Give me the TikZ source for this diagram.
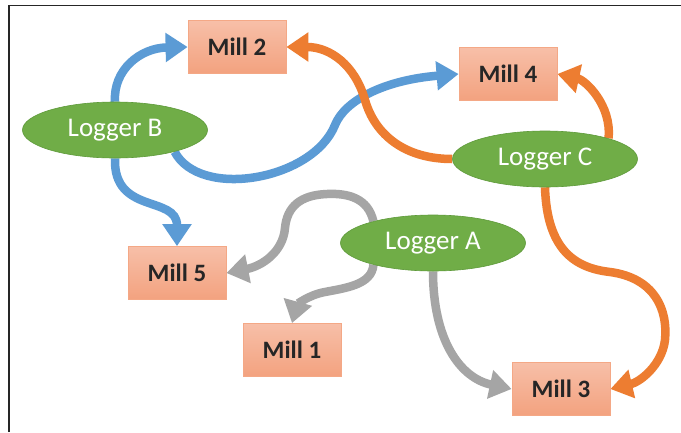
\documentclass[tikz,border=0pt]{standalone}
\usepackage{fontspec}
\setmainfont{Carlito}
\usetikzlibrary{arrows.meta,shapes.geometric}
\definecolor{blueA}{HTML}{5B9BD5}
\definecolor{orangeA}{HTML}{ED7D31}
\definecolor{grayA}{HTML}{A5A5A5}
\definecolor{greenA}{HTML}{70AD47}
\definecolor{greenD}{HTML}{5E9A3A}
\definecolor{millT}{HTML}{F7BFA8}
\definecolor{millBot}{HTML}{F3A27F}
\definecolor{millB}{HTML}{F4A886}
\definecolor{millText}{HTML}{262626}
\definecolor{frameC}{HTML}{262626}
\pgfdeclarelayer{background}
\pgfsetlayers{background,main}
\begin{document}
\begin{tikzpicture}[x=1pt,y=-1pt,
  mill/.style={rectangle, draw=millB, line width=0.8pt, top color=millT, bottom color=millBot,
    minimum width=98pt, minimum height=53pt, inner sep=0pt,
    font=\fontsize{25}{30}\selectfont\bfseries, text=millText},
  logger/.style={ellipse, fill=greenA, draw=greenD, line width=0.6pt,
    minimum width=185pt, minimum height=56pt, inner sep=0pt,
    font=\fontsize{27}{30}\selectfont, text=white},
  conn/.style={line width=8.5pt, -{Triangle[length=22pt,width=28pt]}},
]
\useasboundingbox (0,0) rectangle (681,432);
\draw[frameC, line width=1.5pt] (9,432) -- (9,5.5) -- (681,5.5);

\node[mill] (M2) at (237,47) {Mill 2};
\node[mill] (M4) at (508,74) {Mill 4};
\node[mill] (M5) at (177,273) {Mill 5};
\node[mill] (M1) at (292,350) {Mill 1};
\node[mill] (M3) at (561,389) {Mill 3};
\node[logger] (LB) at (115,130) {Logger B};
\node[logger] (LC) at (545,159) {Logger C};
\node[logger] (LA) at (433,243) {Logger A};

\begin{pgfonlayer}{background}
\fill[white] (0,0) rectangle (681,432);
% Logger B (blue)
\draw[conn, blueA] (LB.north) .. controls (113,70) and (140,48) .. (M2.west);
\draw[conn, blueA] (LB.south) .. controls (113,215) and (177,195) .. (M5.north);
\draw[conn, blueA] (LB.-20) .. controls (200,200) and (313,180) .. (335,125)
   .. controls (345,100) and (385,80) .. (M4.west);
% Logger C (orange)
\draw[conn, orangeA] (LC.west) .. controls (405,159) and (375,135) .. (365,100)
   .. controls (355,65) and (330,47) .. (M2.east);
\draw[conn, orangeA] (LC.18) .. controls (612,105) and (585,80) .. (M4.east);
\draw[conn, orangeA] (LC.south) .. controls (547,250) and (575,268) .. (610,272)
   .. controls (655,278) and (668,310) .. (665,340)
   .. controls (662,365) and (640,382) .. (M3.east);
% Logger A (gray)
\draw[conn, grayA] (LA.160) .. controls (368,198) and (348,193) .. (327,194)
   .. controls (300,195) and (287,207) .. (285,228)
   .. controls (283,252) and (262,266) .. (M5.east);
\draw[conn, grayA] (LA.200) .. controls (372,285) and (345,288) .. (325,292)
   .. controls (308,295) and (297,305) .. (M1.north);
\draw[conn, grayA] (LA.south) .. controls (433,340) and (460,378) .. (M3.west);
\end{pgfonlayer}
\end{tikzpicture}
\end{document}
